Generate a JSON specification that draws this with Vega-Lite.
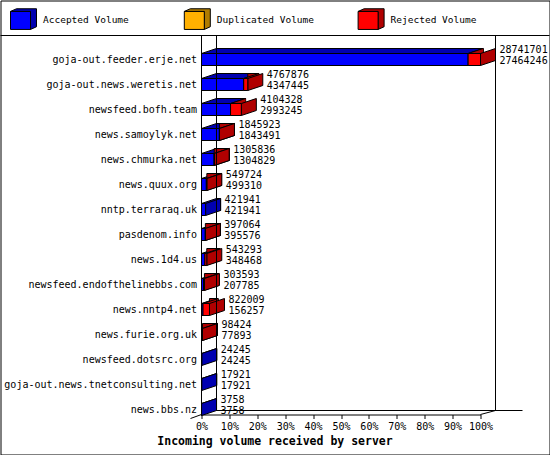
{
  "$schema": "https://vega.github.io/schema/vega-lite/v6.json",
  "width": 549,
  "height": 454,
  "autosize": {"type": "none"},
  "padding": {"left": 0.5, "top": 0.5, "right": 0.5, "bottom": 0.5},
  "background": "white",
  "config": {"view": {"stroke": "black", "strokeWidth": 1}, "axis": {"grid": false}},
  "data": {"values": [
    {"host": "goja-out.feeder.erje.net", "offered": 28741701, "accepted": 27464246},
    {"host": "goja-out.news.weretis.net", "offered": 4767876, "accepted": 4347445},
    {"host": "newsfeed.bofh.team", "offered": 4104328, "accepted": 2993245},
    {"host": "news.samoylyk.net", "offered": 1845923, "accepted": 1843491},
    {"host": "news.chmurka.net", "offered": 1305836, "accepted": 1304829},
    {"host": "news.quux.org", "offered": 549724, "accepted": 499310},
    {"host": "nntp.terraraq.uk", "offered": 421941, "accepted": 421941},
    {"host": "pasdenom.info", "offered": 397064, "accepted": 395576},
    {"host": "news.1d4.us", "offered": 543293, "accepted": 348468},
    {"host": "newsfeed.endofthelinebbs.com", "offered": 303593, "accepted": 207785},
    {"host": "news.nntp4.net", "offered": 822009, "accepted": 156257},
    {"host": "news.furie.org.uk", "offered": 98424, "accepted": 77893},
    {"host": "newsfeed.dotsrc.org", "offered": 24245, "accepted": 24245},
    {"host": "goja-out.news.tnetconsulting.net", "offered": 17921, "accepted": 17921},
    {"host": "news.bbs.nz", "offered": 3758, "accepted": 3758}
  ]},
  "layer": [
    {
      "mark": {"type": "bar", "height": 12, "xOffset": 15, "yOffset": -5, "stroke": "black", "strokeWidth": 1, "opacity": 1},
      "encoding": {
        "y": {"field": "host", "type": "nominal",
          "scale": {"domain": ["goja-out.feeder.erje.net", "goja-out.news.weretis.net", "newsfeed.bofh.team", "news.samoylyk.net", "news.chmurka.net", "news.quux.org", "nntp.terraraq.uk", "pasdenom.info", "news.1d4.us", "newsfeed.endofthelinebbs.com", "news.nntp4.net", "news.furie.org.uk", "newsfeed.dotsrc.org", "goja-out.news.tnetconsulting.net", "news.bbs.nz"], "range": [46.5, 421.5], "paddingInner": 0, "paddingOuter": 0},
          "axis": {"orient": "left", "offset": -196, "domain": false, "ticks": false, "labelPadding": 0, "labelFont": "DejaVu Sans Mono", "labelFontSize": 10, "labelColor": "black", "labelLimit": 300, "title": null}},
        "x": {"field": "accepted", "type": "quantitative",
          "scale": {"domain": [0, 28741701], "range": [201, 480], "nice": false, "zero": true},
          "axis": {"orient": "bottom", "offset": -40, "values": [0, 2874170.1, 5748340.2, 8622510.3, 11496680.4, 14370850.5, 17245020.6, 20119190.7, 22993360.8, 25867530.9, 28741701],
            "labelExpr": "format(datum.value / 28741701, '.0%')", "domainColor": "black", "tickColor": "black", "tickSize": 4, "labelFont": "DejaVu Sans Mono", "labelFontSize": 10, "labelColor": "black", "labelPadding": 3, "labelFlush": false, "labelOverlap": false,
            "title": "Incoming volume received by server", "titleFont": "DejaVu Sans Mono", "titleFontWeight": "bold", "titleFontSize": 11.5, "titleColor": "black", "titleX": 274, "titleY": 27, "titleBaseline": "middle", "titleAlign": "center"}},
        "fill": {"datum": "Accepted",
          "scale": {"domain": ["Accepted", "Duplicated", "Rejected"], "range": ["#0000B0", "#B07C00", "#B00000"]},
          "legend": {"orient": "none", "legendX": 9.5, "legendY": 9.2, "direction": "horizontal", "columns": 3, "gridAlign": "all", "columnPadding": 40.8, "symbolType": "M-1,-0.9L-0.4,-1.17L1.6,-1.17L1.6,0.63L1,0.9L1,-0.9Z", "symbolSize": 400, "symbolStrokeColor": "black", "symbolStrokeWidth": 1, "symbolOpacity": 1, "labelFont": "DejaVu Sans Mono", "labelFontSize": 9.5, "labelOffset": 12, "labelColor": "black", "labelOpacity": 0, "labelExpr": "datum.label + ' Volume'", "title": null, "padding": 0, "rowPadding": 0}}
      }
    },
    {
      "mark": {"type": "point", "shape": "M1.5,-0.6L0,-0.6L1.5,-1.1", "size": 400, "filled": true, "stroke": "black", "strokeWidth": 1, "opacity": 1},
      "encoding": {"y": {"field": "host", "type": "nominal"}, "x": {"datum": 0}, "fill": {"datum": "Accepted"}}
    },
    {
      "mark": {"type": "point", "shape": "M0,-0.6L1.5,-1.1L1.5,0.1L0,0.6Z", "size": 400, "filled": true, "stroke": "black", "strokeWidth": 1, "opacity": 1},
      "encoding": {"y": {"field": "host", "type": "nominal"}, "x": {"field": "accepted", "type": "quantitative"}, "fill": {"datum": "Accepted"}}
    },
    {
      "transform": [{"filter": "datum.offered > datum.accepted"}],
      "mark": {"type": "bar", "height": 12, "xOffset": 15, "yOffset": -5, "stroke": "black", "strokeWidth": 1, "opacity": 1},
      "encoding": {"y": {"field": "host", "type": "nominal"}, "x": {"field": "accepted", "type": "quantitative"}, "x2": {"field": "offered"}, "fill": {"datum": "Rejected"}}
    },
    {
      "transform": [{"filter": "datum.offered > datum.accepted"}],
      "mark": {"type": "point", "shape": "M1.5,-0.6L0,-0.6L1.5,-1.1", "size": 400, "filled": true, "stroke": "black", "strokeWidth": 1, "opacity": 1},
      "encoding": {"y": {"field": "host", "type": "nominal"}, "x": {"field": "accepted", "type": "quantitative"}, "fill": {"datum": "Rejected"}}
    },
    {
      "transform": [{"filter": "datum.offered > datum.accepted"}],
      "mark": {"type": "point", "shape": "M0,-0.6L1.5,-1.1L1.5,0.1L0,0.6Z", "size": 400, "filled": true, "stroke": "black", "strokeWidth": 1, "opacity": 1},
      "encoding": {"y": {"field": "host", "type": "nominal"}, "x": {"field": "offered", "type": "quantitative"}, "fill": {"datum": "Rejected"}}
    },
    {
      "mark": {"type": "bar", "height": 12, "stroke": "black", "strokeWidth": 1, "opacity": 1},
      "encoding": {
        "y": {"field": "host", "type": "nominal"},
        "x": {"field": "accepted", "type": "quantitative"},
        "color": {"datum": "Accepted Volume",
          "scale": {"domain": ["Accepted Volume", "Duplicated Volume", "Rejected Volume"], "range": ["#0000FF", "#FFB000", "#FF0000"]},
          "legend": {"orient": "none", "legendX": 9.5, "legendY": 9.2, "direction": "horizontal", "columns": 3, "gridAlign": "all", "columnPadding": 40.8, "symbolType": "M-1,-0.9L1,-0.9L1,0.9L-1,0.9Z", "symbolSize": 400, "symbolStrokeColor": "black", "symbolStrokeWidth": 1, "symbolOpacity": 1, "labelFont": "DejaVu Sans Mono", "labelFontSize": 9.5, "labelOffset": 12, "labelColor": "black", "title": null, "padding": 0, "rowPadding": 0}}
      }
    },
    {
      "transform": [{"filter": "datum.offered > datum.accepted"}],
      "mark": {"type": "bar", "height": 12, "stroke": "black", "strokeWidth": 1, "opacity": 1},
      "encoding": {"y": {"field": "host", "type": "nominal"}, "x": {"field": "accepted", "type": "quantitative"}, "x2": {"field": "offered"}, "color": {"datum": "Rejected Volume"}}
    },
    {
      "mark": {"type": "text", "align": "left", "baseline": "middle", "dx": 19, "dy": -10, "font": "DejaVu Sans Mono", "fontSize": 10, "color": "black"},
      "encoding": {"y": {"field": "host", "type": "nominal"}, "x": {"field": "offered", "type": "quantitative"}, "text": {"field": "offered", "type": "nominal"}}
    },
    {
      "mark": {"type": "text", "align": "left", "baseline": "middle", "dx": 19, "dy": 1, "font": "DejaVu Sans Mono", "fontSize": 10, "color": "black"},
      "encoding": {"y": {"field": "host", "type": "nominal"}, "x": {"field": "offered", "type": "quantitative"}, "text": {"field": "accepted", "type": "nominal"}}
    },
    {
      "data": {"values": [{}]},
      "mark": {"type": "rule", "color": "black", "strokeWidth": 1, "yOffset": -24},
      "encoding": {"y": {"datum": "goja-out.feeder.erje.net"}}
    },
    {
      "data": {"values": [{}]},
      "mark": {"type": "rule", "color": "black", "strokeWidth": 1, "yOffset": -24, "y2Offset": 5},
      "encoding": {"x": {"datum": 0}, "y": {"datum": "goja-out.feeder.erje.net"}, "y2": {"datum": "news.bbs.nz"}}
    },
    {
      "data": {"values": [{}]},
      "mark": {"type": "rule", "color": "black", "strokeWidth": 1, "xOffset": 15, "yOffset": -24, "y2Offset": 1},
      "encoding": {"x": {"datum": 0}, "y": {"datum": "goja-out.feeder.erje.net"}, "y2": {"datum": "news.bbs.nz"}}
    },
    {
      "data": {"values": [{}]},
      "mark": {"type": "rule", "color": "black", "strokeWidth": 1, "xOffset": 15, "yOffset": -24, "y2Offset": 1},
      "encoding": {"x": {"datum": 28741701}, "y": {"datum": "goja-out.feeder.erje.net"}, "y2": {"datum": "news.bbs.nz"}}
    },
    {
      "data": {"values": [{}]},
      "mark": {"type": "rule", "color": "black", "strokeWidth": 1, "xOffset": 15, "x2Offset": 42, "yOffset": 1},
      "encoding": {"x": {"datum": 0}, "x2": {"datum": 28741701}, "y": {"datum": "news.bbs.nz"}}
    },
    {
      "data": {"values": [{}]},
      "mark": {"type": "rule", "color": "black", "strokeWidth": 1, "x2Offset": 15, "yOffset": 5, "y2Offset": 1},
      "encoding": {"x": {"datum": 28741701}, "x2": {"datum": 28741701}, "y": {"datum": "news.bbs.nz"}, "y2": {"datum": "news.bbs.nz"}}
    },
    {
      "data": {"values": [{}]},
      "mark": {"type": "rule", "color": "black", "strokeWidth": 1, "x2Offset": -11, "yOffset": 5, "y2Offset": 9},
      "encoding": {"x": {"datum": 0}, "x2": {"datum": 0}, "y": {"datum": "news.bbs.nz"}, "y2": {"datum": "news.bbs.nz"}}
    }
  ]
}
